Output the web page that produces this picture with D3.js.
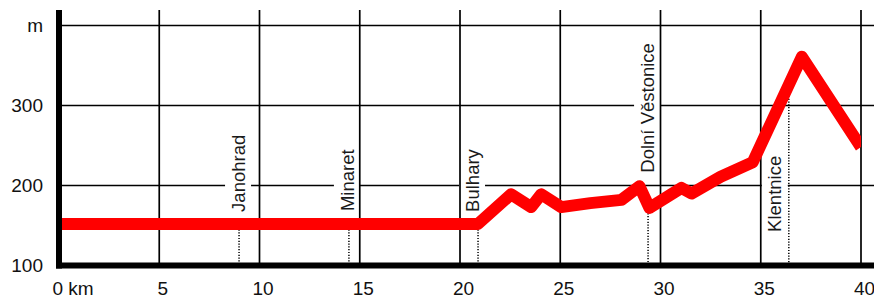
<!DOCTYPE html>
<html>
<head>
<meta charset="utf-8">
<script src="https://cdn.jsdelivr.net/npm/d3@7"></script>
<style>
    body { margin: 0; background: #fff; }
    svg { display: block; }
    text { font-family: "Liberation Sans", Arial, sans-serif; }
</style>
</head>
<body>
<div id="chart"></div>
<script>
// ===== data =====
const kmTicks = [0, 5, 10, 15, 20, 25, 30, 35, 40];
const kmTickLabels = ["0 km", "5", "10", "15", "20", "25", "30", "35", "40"];
const mTicks = [100, 200, 300, 400];
const mTickLabels = ["100", "200", "300", "m"];

const profileKm = [0, 20.9, 22.55, 23.55, 24.05, 25.05, 26.5, 28.05, 28.95, 29.45, 31.05, 31.55, 33.0, 34.6, 37.05, 40];
const profileM  = [152, 152, 189, 173, 189, 173, 178, 182, 199, 172, 197, 190, 211, 229, 361, 248];

const placeNames   = ["Janohrad", "Minaret", "Bulhary", "Dolní Věstonice", "Klentnice"];
const placeKm      = [8.98, 14.46, 20.9, 29.38, 36.4];
const placeLabelKm = [8.93, 14.36, 20.6, 29.33, 35.7];
const placeLabelM  = [167, 168, 167, 216, 142];

// ===== layout =====
const width = 874, height = 297;
const x = d3.scaleLinear().domain([0, 40]).range([59, 861]);
const y = d3.scaleLinear().domain([100, 400]).range([265.5, 25.5]);
const gridTop = 10;

const places = placeNames.map((name, i) => ({ name, km: placeKm[i], lkm: placeLabelKm[i], lm: placeLabelM[i] }));

const svg = d3.select("#chart").append("svg")
    .attr("width", width)
    .attr("height", height);

svg.append("defs").append("clipPath").attr("id", "plotClip")
    .append("rect")
    .attr("x", x(0)).attr("y", 0)
    .attr("width", x(40) - x(0)).attr("height", height);

// horizontal grid
svg.append("g")
    .selectAll("line")
    .data(mTicks.filter(d => d > 100))
    .join("line")
    .attr("x1", x(0)).attr("x2", width)
    .attr("y1", d => y(d)).attr("y2", d => y(d))
    .attr("stroke", "#000")
    .attr("stroke-width", 1.7);

// label backgrounds go under the vertical grid, text goes on top of everything
const bgG = svg.append("g");

// vertical grid
svg.append("g")
    .selectAll("line")
    .data(kmTicks.filter(d => d > 0))
    .join("line")
    .attr("x1", d => x(d)).attr("x2", d => x(d))
    .attr("y1", gridTop).attr("y2", y(100))
    .attr("stroke", "#000")
    .attr("stroke-width", 1.7);

// dotted drop lines
const elevAt = km => {
    const i = d3.bisectRight(profileKm, km);
    const t = (km - profileKm[i - 1]) / (profileKm[i] - profileKm[i - 1]);
    return profileM[i - 1] + t * (profileM[i] - profileM[i - 1]);
};
svg.append("g")
    .selectAll("line")
    .data(placeKm)
    .join("line")
    .attr("x1", d => x(d)).attr("x2", d => x(d))
    .attr("y1", d => y(elevAt(d))).attr("y2", y(100))
    .attr("stroke", "#000")
    .attr("stroke-width", 1.5)
    .attr("stroke-dasharray", "1.2,1.6");

// profile line
const line = d3.line()
    .x((d, i) => x(profileKm[i]))
    .y(d => y(d));
svg.append("path")
    .datum(profileM)
    .attr("clip-path", "url(#plotClip)")
    .attr("d", line)
    .attr("fill", "none")
    .attr("stroke", "#ff0000")
    .attr("stroke-width", 12)
    .attr("stroke-linejoin", "round");

// place labels
const labelText = svg.append("g")
    .selectAll("text")
    .data(places)
    .join("text")
    .attr("transform", d => `translate(${x(d.lkm)},${y(d.lm)}) rotate(-90)`)
    .attr("dy", "0.36em")
    .style("font-size", "18.5px")
    .attr("fill", "#1a1a1a")
    .text(d => d.name);

labelText.each(function (d) {
    const len = this.getComputedTextLength();
    bgG.append("rect")
        .attr("x", x(d.lkm) - 13)
        .attr("y", y(d.lm) - len - 4)
        .attr("width", 26)
        .attr("height", len + 8)
        .attr("fill", "#fff");
});

// axes lines
svg.append("line")
    .attr("x1", x(0)).attr("x2", x(0))
    .attr("y1", gridTop).attr("y2", y(100) + 3)
    .attr("stroke", "#000").attr("stroke-width", 6);
svg.append("line")
    .attr("x1", x(0) - 3).attr("x2", width)
    .attr("y1", y(100)).attr("y2", y(100))
    .attr("stroke", "#000").attr("stroke-width", 6);

// tick labels
const yAxis = d3.axisLeft(y)
    .tickValues(mTicks)
    .tickSize(0)
    .tickPadding(0)
    .tickFormat((d, i) => mTickLabels[i]);
const yg = svg.append("g").attr("transform", "translate(43,0)").call(yAxis);
yg.select(".domain").remove();
yg.selectAll("text").style("font-size", "19px").attr("fill", "#111").attr("font-family", null);

const xAxis = d3.axisBottom(x)
    .tickValues(kmTicks)
    .tickSize(0)
    .tickPadding(0)
    .tickFormat((d, i) => kmTickLabels[i]);
const xg = svg.append("g").attr("transform", `translate(0,${y(100)})`).call(xAxis);
xg.select(".domain").remove();
xg.selectAll("text")
    .style("font-size", "19px")
    .attr("fill", "#111")
    .attr("font-family", null)
    .attr("y", 29)
    .attr("dy", 0)
    .attr("x", d => d === 0 ? -7 : 3)
    .attr("text-anchor", d => d === 0 ? "start" : "middle");
</script>
</body>
</html>
